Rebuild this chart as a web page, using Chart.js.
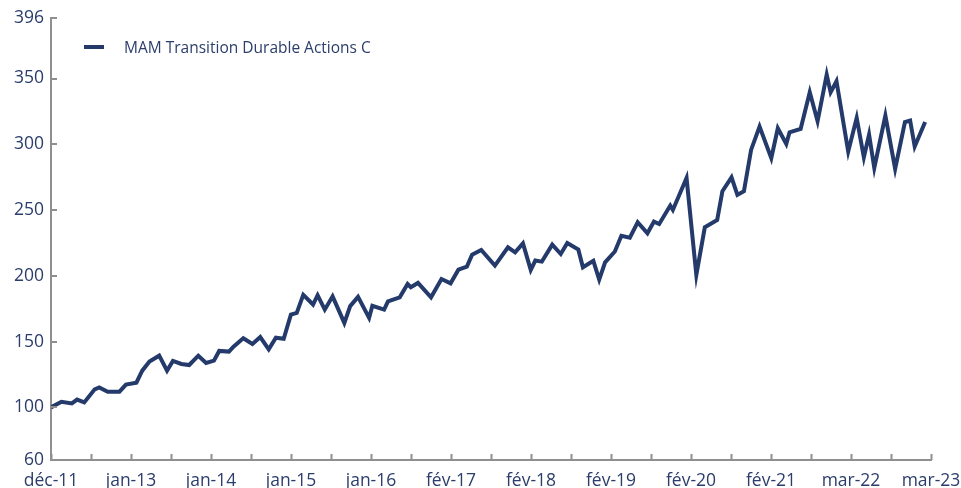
<!DOCTYPE html>
<html lang="fr">
<head>
<meta charset="utf-8">
<title>MAM Transition Durable Actions C</title>
<script src="https://cdn.jsdelivr.net/npm/chart.js@4.4.1/dist/chart.umd.min.js"></script>
<style>
  html, body { margin:0; padding:0; background:#fff; }
  #wrap { position:relative; width:961px; height:488px; }
  #legend { position:absolute; left:84px; top:36px; display:flex; align-items:center;
    font-family:"Open Sans", sans-serif; font-size:15.5px; color:#2b3d6b; }
  #legend .mark { width:20px; height:4px; background:#233a6b; margin-right:20px; }
</style>
</head>
<body>
<div id="wrap">
  <canvas id="chart"></canvas>
  <div id="legend"></div>
</div>
<script>
// valeurs (base 100 en déc-11), abscisse = mois depuis déc-11
const seriesName = 'MAM Transition Durable Actions C';
const months = [
  0, 1.6, 3.2, 4.0, 5.1, 6.7, 7.4, 8.7, 10.5, 11.5, 13.1, 14.0, 15.1, 16.6, 17.8, 18.7,
  20.0, 21.2, 22.6, 23.8, 25.0, 25.8, 27.3, 28.0, 29.5, 30.9, 32.1, 33.4, 34.5, 35.7,
  36.8, 37.7, 38.7, 40.2, 40.9, 42.0, 43.2, 45.0, 45.9, 47.1, 48.8, 49.3, 51.1, 51.7,
  53.5, 54.7, 55.2, 56.3, 58.3, 59.9, 61.3, 62.5, 63.8, 64.6, 66.0, 68.1, 70.1, 71.2,
  72.4, 73.6, 74.3, 75.3, 76.9, 78.2, 79.2, 80.9, 81.6, 83.2, 84.1, 85.0, 86.5, 87.5,
  88.8, 90.0, 91.5, 92.5, 93.3, 95.0, 95.4, 97.5, 99.0, 100.3, 102.2, 103.0, 104.4,
  105.3, 106.3, 107.4, 108.7, 110.5, 111.5, 112.8, 113.3, 115.0, 116.4, 117.6, 119.0,
  119.6, 120.5, 122.3, 123.6, 124.7, 125.5, 126.3, 128.0, 129.5, 131.0, 131.8, 132.5, 134.1
];
const values = [
  100, 104.3, 103, 105.9, 103.8, 113.7, 115.2, 111.9, 111.9, 117.3, 118.8, 127.9, 134.8, 139.3, 127.9, 135.3,
  133, 132.2, 139.3, 133.8, 135.5, 142.9, 142.4, 146.2, 152.5, 148.2, 153.5, 144.1, 153, 152.2,
  170.5, 171.8, 185.5, 178.2, 185.3, 174.3, 184.4, 164.2, 177, 184, 168, 177.2, 174.3, 180.6,
  183.7, 193.8, 191.3, 194.6, 183.7, 197.6, 194.3, 204.7, 207, 216.1, 219.7, 207.8, 221.7, 217.9,
  224.7, 204.5, 211.6, 210.8, 223.7, 216.6, 225, 219.9, 206.5, 211.4, 197.1, 210.3, 218.5, 230.5,
  229, 240.7, 232.3, 241.2, 239.4, 253.4, 250.1, 274.4, 200.7, 236.9, 242.5, 264.3, 274.9,
  261.5, 264.3, 295.7, 313.5, 289.4, 312.2, 300.3, 309.1, 311.7, 339.5, 317.5, 353,
  339.5, 347.9, 294.5, 320.1, 290.1, 307.4, 282, 321.8, 281.3, 316.9, 318.1, 298.3, 316.9
];
const xLabels = ['déc-11','jan-13','jan-14','jan-15','jan-16','fév-17','fév-18','fév-19','fév-20','fév-21','mar-22','mar-23'];
const yTicks = [60, 100, 150, 200, 250, 300, 350, 396];
const xSpan = 135;      // mois entre déc-11 et mar-23
const xTickCount = 22;  // une graduation sur deux porte un libellé

const NAVY = '#233a6b';
const TEXT = '#2b3d6b';
const AXIS = '#8f8f8f';
const FONT = '"Open Sans", sans-serif';

// graduations tournées vers l'intérieur du graphique
const innerTicks = {
  id:'innerTicks',
  afterDraw(chart){
    const { ctx, chartArea, scales:{ x, y } } = chart;
    ctx.save();
    ctx.strokeStyle = AXIS;
    ctx.lineWidth = 2;
    ctx.beginPath();
    x.ticks.forEach(t => {
      const px = Math.round(x.getPixelForValue(t.value)) + 0.5;
      ctx.moveTo(px, chartArea.bottom);
      ctx.lineTo(px, chartArea.bottom - 6);
    });
    y.ticks.forEach(t => {
      const py = Math.round(y.getPixelForValue(t.value));
      ctx.moveTo(chartArea.left, py);
      ctx.lineTo(chartArea.left + 6, py);
    });
    ctx.stroke();
    ctx.restore();
  }
};

const ctx = document.getElementById('chart').getContext('2d');
const chart = new Chart(ctx, {
  type:'line',
  data:{ datasets:[{
    label:seriesName,
    data:months.map((m, i) => ({ x:m, y:values[i] })),
    borderColor:NAVY, borderWidth:4, pointRadius:0, tension:0,
    borderJoinStyle:'miter', fill:false
  }]},
  options:{
    parsing:false, animation:false, responsive:true, maintainAspectRatio:false,
    layout:{ padding:{ top:18, right:30, bottom:0, left:0 } },
    plugins:{ legend:{ display:false }, tooltip:{ enabled:false } },
    scales:{
      x:{
        type:'linear', min:0, max:xSpan,
        grid:{ display:false, drawTicks:false },
        border:{ display:true, color:AXIS, width:2 },
        afterBuildTicks(scale){
          const t = [];
          for (let i = 0; i <= xTickCount; i++) t.push({ value:i * xSpan / xTickCount });
          scale.ticks = t;
        },
        afterFit(scale){
          scale.height = 28;
          scale.paddingLeft = 0;
          scale.paddingRight = 0;
        },
        ticks:{
          autoSkip:false, maxRotation:0, padding:11, color:TEXT,
          font:{ family:FONT, size:17.5 },
          callback:(v, i) => (i % 2 === 0 ? xLabels[i / 2] : '')
        }
      },
      y:{
        type:'linear', min:60, max:396,
        grid:{ display:false, drawTicks:false },
        border:{ display:true, color:AXIS, width:2 },
        afterBuildTicks(scale){ scale.ticks = yTicks.map(v => ({ value:v })); },
        afterFit(scale){ scale.width = 51; },
        ticks:{ padding:7, color:TEXT, font:{ family:FONT, size:17.5 } }
      }
    }
  },
  plugins:[innerTicks]
});

document.getElementById('legend').innerHTML =
  '<span class="mark"></span><span>' + chart.data.datasets[0].label + '</span>';
</script>
</body>
</html>
